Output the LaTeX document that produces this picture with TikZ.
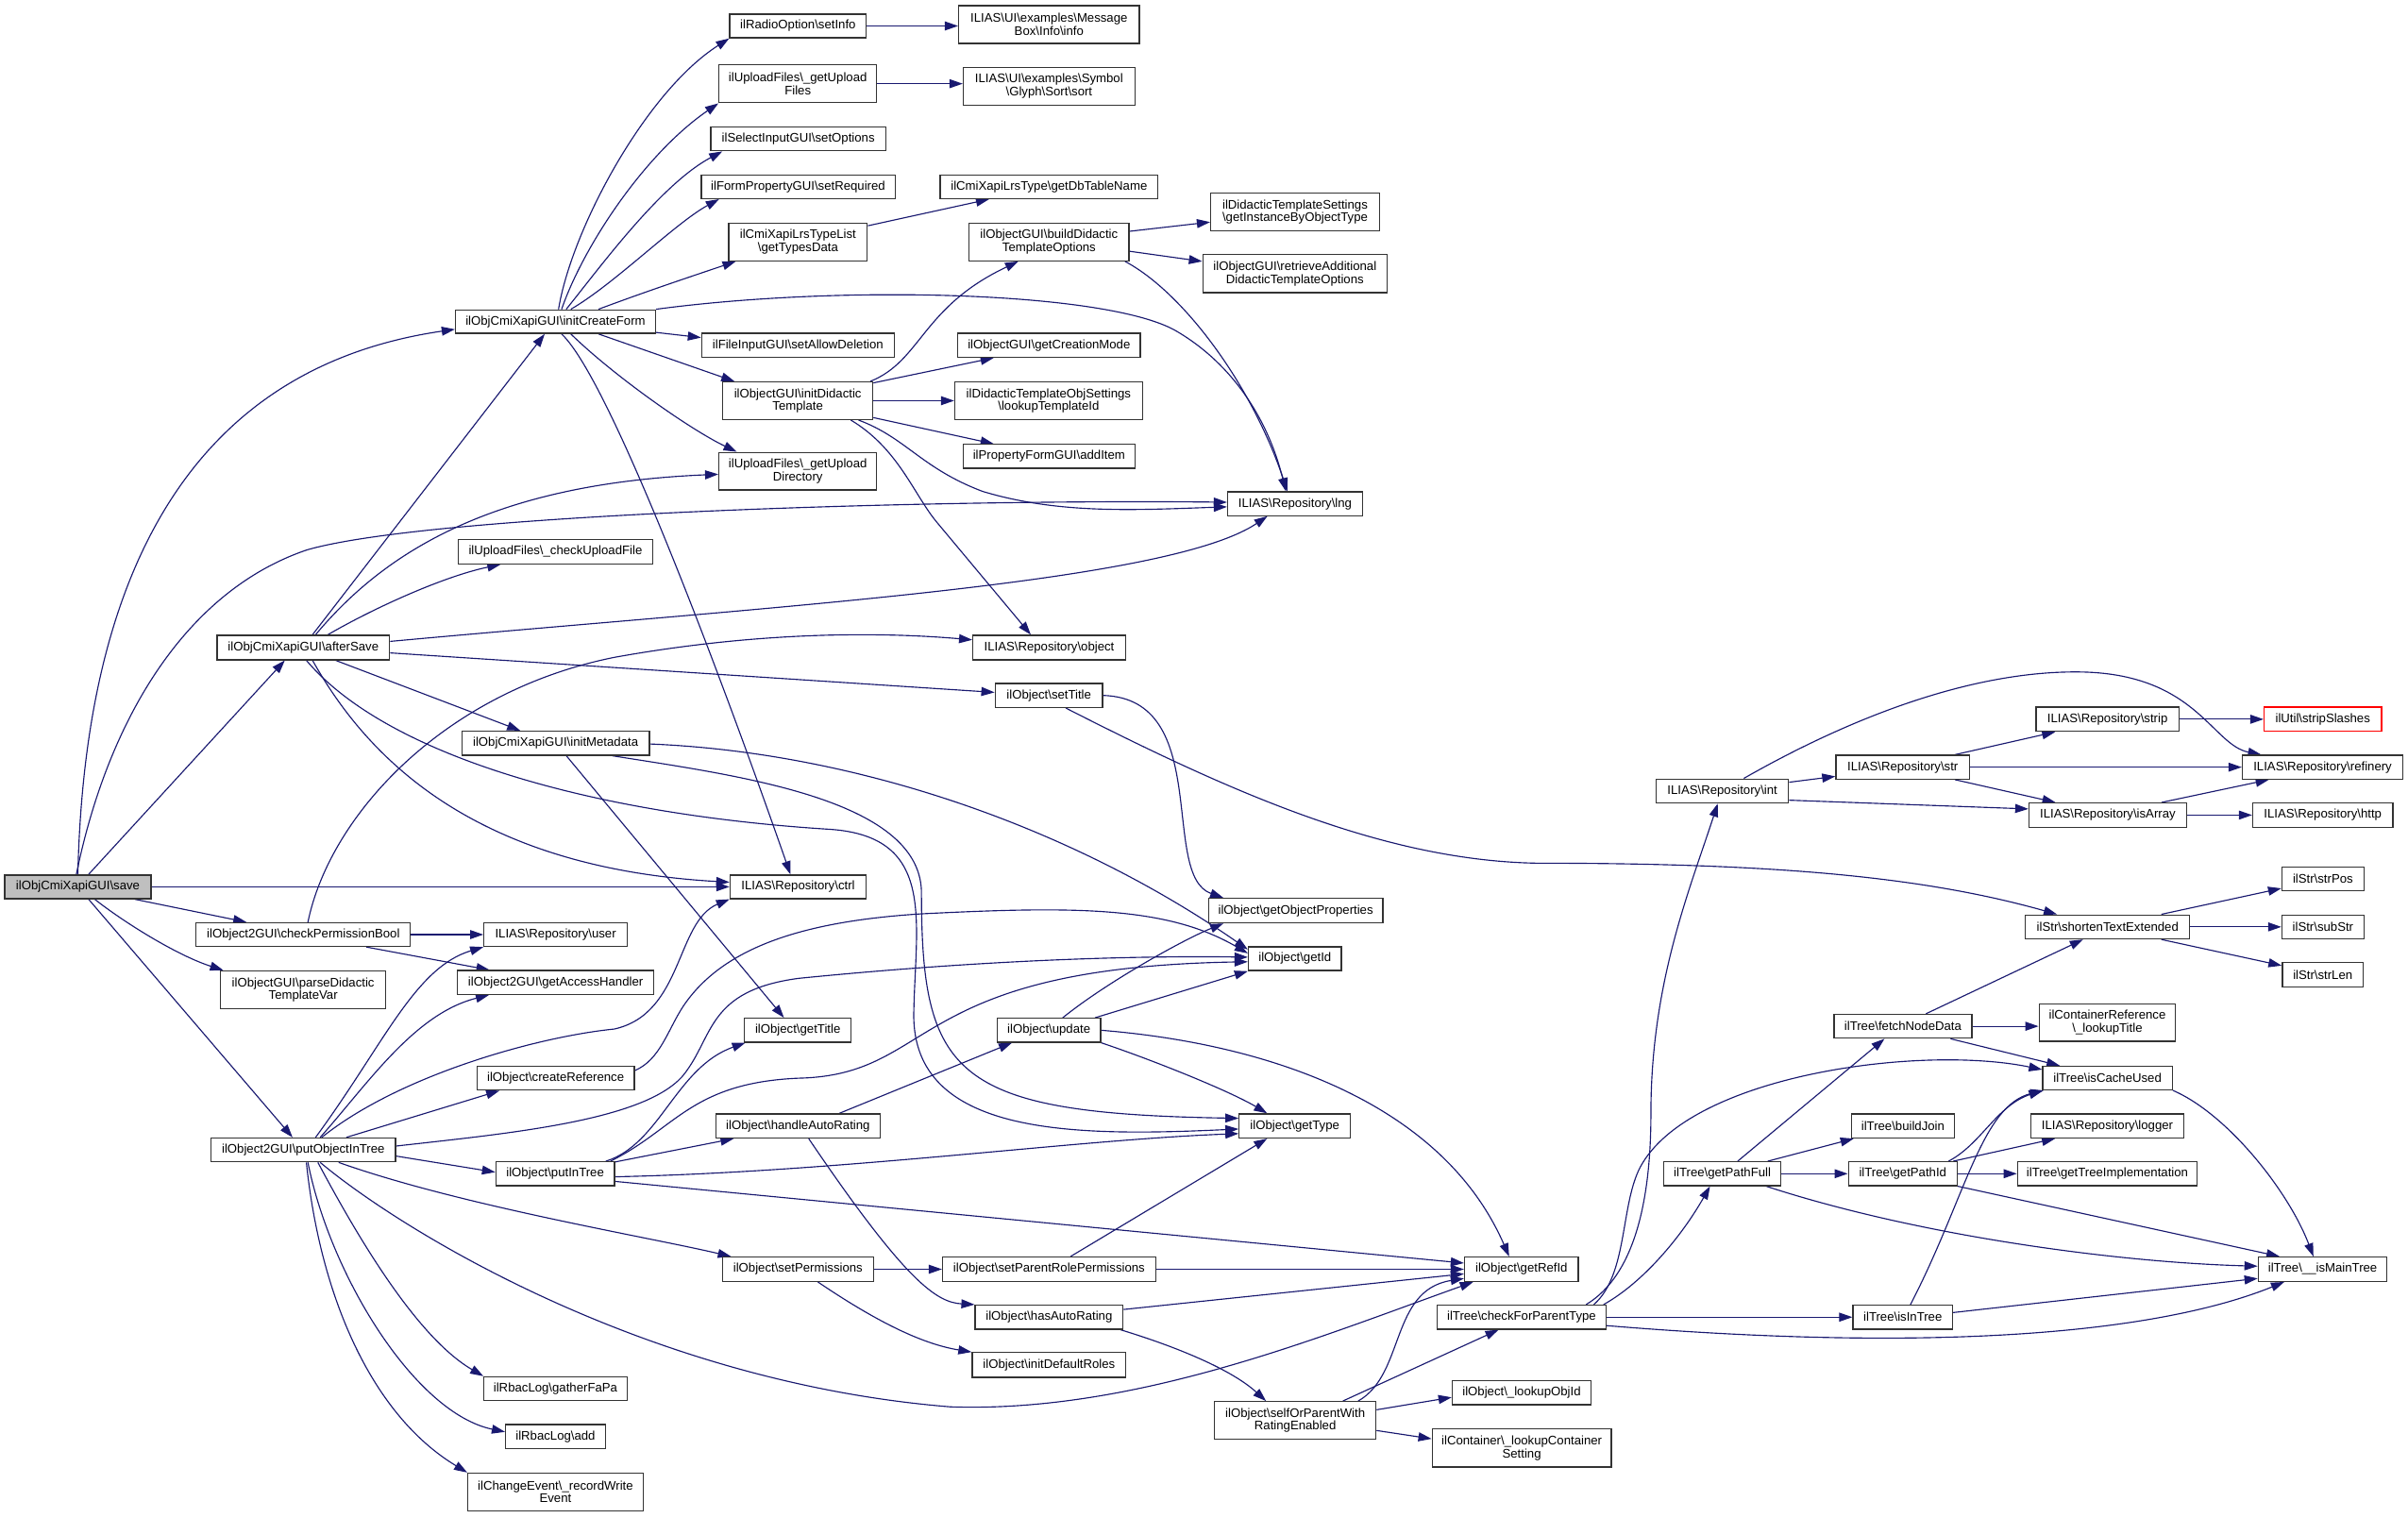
\documentclass[tikz,border=0pt]{standalone}
\usepackage{fontspec}
\setmainfont{Liberation Sans}
\usetikzlibrary{arrows.meta}
\definecolor{edgecol}{HTML}{191970}
\definecolor{boxcol}{HTML}{333333}
\definecolor{savefill}{HTML}{BFBFBF}
\pgfdeclarelayer{bg}
\pgfsetlayers{bg,main}
\newcommand{\bsl}{\textbackslash{}}
\newcommand{\mknode}[7][]{\node[fn,minimum width=#5pt,minimum height=#6pt,#1] (#2) at (#3,#4) {#7};}
\begin{document}
\begin{tikzpicture}[x=1pt,y=-1pt,
  fn/.style={draw=boxcol,line width=0.8pt,fill=white,inner sep=0pt,align=center,font=\fontsize{8.1}{8.4}\selectfont},
  e/.style={draw=edgecol,line width=0.7pt,-{Triangle[length=8.6pt,width=5.8pt]}}]
\useasboundingbox (0,0) rectangle (1568,987.8);
% ---------- nodes ----------
\mknode[fill=savefill]{save}{50.7}{577.4}{95.4}{15.4}{ilObjCmiXapiGUI\bsl save}
\mknode{icf}{361.7}{209.4}{130.2}{15.3}{ilObjCmiXapiGUI\bsl initCreateForm}
\mknode{afterSave}{197.5}{421.6}{112.4}{15.9}{ilObjCmiXapiGUI\bsl afterSave}
\mknode{cpb}{197.5}{608.5}{139.5}{15.4}{ilObject2GUI\bsl checkPermissionBool}
\mknode{pdtv}{197.4}{644.5}{107.7}{24.8}{ilObjectGUI\bsl parseDidactic\\TemplateVar}
\mknode{poit}{197.5}{748.7}{119.9}{15.5}{ilObject2GUI\bsl putObjectInTree}
\mknode{setInfo}{519.6}{16.9}{88.8}{15.5}{ilRadioOption\bsl setInfo}
\mknode{guf}{519.5}{54.5}{102.7}{24.8}{ilUploadFiles\bsl\_getUpload\\Files}
\mknode{setOptions}{519.8}{90.5}{114.1}{15.4}{ilSelectInputGUI\bsl setOptions}
\mknode{setRequired}{519.7}{121.6}{126.2}{15.4}{ilFormPropertyGUI\bsl setRequired}
\mknode{gtd}{519.6}{157.6}{90.2}{24.4}{ilCmiXapiLrsTypeList\\\bsl getTypesData}
\mknode{sad}{519.6}{224.8}{125.4}{15.6}{ilFileInputGUI\bsl setAllowDeletion}
\mknode{idt}{519.5}{260.9}{97.6}{24.4}{ilObjectGUI\bsl initDidactic\\Template}
\mknode{gud}{519.5}{306.8}{102.7}{24.5}{ilUploadFiles\bsl\_getUpload\\Directory}
\mknode{cuf}{361.7}{359.3}{126.7}{15.7}{ilUploadFiles\bsl\_checkUploadFile}
\mknode{imd}{361.8}{483.9}{122}{15.6}{ilObjCmiXapiGUI\bsl initMetadata}
\mknode{ctrl}{519.7}{577.4}{88.6}{15.4}{ILIAS\bsl Repository\bsl ctrl}
\mknode{user}{361.8}{608.5}{93.3}{15.4}{ILIAS\bsl Repository\bsl user}
\mknode{gah}{361.8}{639.7}{128}{15.5}{ilObject2GUI\bsl getAccessHandler}
\mknode{getTitle}{519.5}{670.8}{69.5}{15.5}{ilObject\bsl getTitle}
\mknode{createRef}{361.8}{702.0}{102.4}{15.5}{ilObject\bsl createReference}
\mknode{putInTree}{361.5}{764.2}{77.2}{15.5}{ilObject\bsl putInTree}
\mknode{har}{519.6}{733.1}{106.8}{15.7}{ilObject\bsl handleAutoRating}
\mknode{setPerm}{519.6}{826.4}{98.3}{15.8}{ilObject\bsl setPermissions}
\mknode{gfp}{361.7}{904.2}{93.1}{15.6}{ilRbacLog\bsl gatherFaPa}
\mknode{add}{361.7}{935.3}{64.9}{15.6}{ilRbacLog\bsl add}
\mknode{rwe}{361.7}{971.4}{114.1}{24.5}{ilChangeEvent\bsl\_recordWrite\\Event}
\mknode{msg}{683.1}{15.9}{117.7}{24.6}{ILIAS\bsl UI\bsl examples\bsl Message\\Box\bsl Info\bsl info}
\mknode{sort}{683.1}{56.1}{111.7}{24.6}{ILIAS\bsl UI\bsl examples\bsl Symbol\\\bsl Glyph\bsl Sort\bsl sort}
\mknode{dbtn}{683.1}{121.6}{141.8}{15.4}{ilCmiXapiLrsType\bsl getDbTableName}
\mknode{bdto}{683.1}{157.6}{104.1}{24.4}{ilObjectGUI\bsl buildDidactic\\TemplateOptions}
\mknode{gcm}{683.1}{224.8}{118.7}{15.6}{ilObjectGUI\bsl getCreationMode}
\mknode{lti}{682.8}{260.9}{122.2}{24.4}{ilDidacticTemplateObjSettings\\\bsl lookupTemplateId}
\mknode{addItem}{683.1}{297.1}{112.1}{15.4}{ilPropertyFormGUI\bsl addItem}
\mknode{lng}{843.3}{328.0}{87.9}{15.4}{ILIAS\bsl Repository\bsl lng}
\mknode{obj}{683.2}{421.6}{99.4}{15.9}{ILIAS\bsl Repository\bsl object}
\mknode{setTitle}{683}{452.8}{70}{15.6}{ilObject\bsl setTitle}
\mknode{gop}{843.7}{592.9}{113.4}{15.9}{ilObject\bsl getObjectProperties}
\mknode{getId}{843.2}{624.2}{60.6}{15.5}{ilObject\bsl getId}
\mknode{update}{683.0}{670.8}{67.3}{15.5}{ilObject\bsl update}
\mknode{getType}{843.1}{733.1}{72.4}{15.7}{ilObject\bsl getType}
\mknode{srp}{683.1}{826.4}{138.7}{15.8}{ilObject\bsl setParentRolePermissions}
\mknode{hasAR}{683.1}{857.6}{96.2}{15.6}{ilObject\bsl hasAutoRating}
\mknode{idr}{683.1}{888.7}{100.1}{16}{ilObject\bsl initDefaultRoles}
\mknode{getRefId}{990.7}{826.4}{74.1}{15.8}{ilObject\bsl getRefId}
\mknode{sop}{843.4}{924.9}{105.1}{24.6}{ilObject\bsl selfOrParentWith\\RatingEnabled}
\mknode{loi}{990.8}{906.8}{90.3}{15.7}{ilObject\bsl\_lookupObjId}
\mknode{lcs}{990.9}{942.8}{116.6}{24.7}{ilContainer\bsl\_lookupContainer\\Setting}
\mknode{cfpt}{990.8}{857.6}{109.9}{15.6}{ilTree\bsl checkForParentType}
\mknode{gibot}{843.3}{138.1}{109.9}{24.5}{ilDidacticTemplateSettings\\\bsl getInstanceByObjectType}
\mknode{rad}{843.2}{178.2}{120}{24.7}{ilObjectGUI\bsl retrieveAdditional\\DidacticTemplateOptions}
\mknode{int}{1121.5}{515.0}{86.3}{15.6}{ILIAS\bsl Repository\bsl int}
\mknode{strip}{1372.3}{468.3}{93}{15.7}{ILIAS\bsl Repository\bsl strip}
\mknode[draw=red]{stripSl}{1512.5}{468.3}{76.4}{15.7}{ilUtil\bsl stripSlashes}
\mknode{str}{1239.0}{499.5}{87}{15.5}{ILIAS\bsl Repository\bsl str}
\mknode{refinery}{1512.4}{499.5}{104.6}{15.5}{ILIAS\bsl Repository\bsl refinery}
\mknode{isArray}{1372.5}{530.7}{102.6}{15.7}{ILIAS\bsl Repository\bsl isArray}
\mknode{http}{1512.5}{530.7}{91.3}{15.7}{ILIAS\bsl Repository\bsl http}
\mknode{ste}{1372.4}{603.5}{106.9}{15.6}{ilStr\bsl shortenTextExtended}
\mknode{strPos}{1512.6}{572.4}{53.4}{15.4}{ilStr\bsl strPos}
\mknode{subStr}{1512.6}{603.5}{53.4}{15.6}{ilStr\bsl subStr}
\mknode{strLen}{1512.5}{634.7}{52.7}{15.7}{ilStr\bsl strLen}
\mknode{fnd}{1239.1}{668.2}{89.8}{15.5}{ilTree\bsl fetchNodeData}
\mknode{clt}{1372.2}{665.8}{88.8}{24.2}{ilContainerReference\\\bsl\_lookupTitle}
\mknode{icu}{1372.3}{701.9}{84.3}{15.3}{ilTree\bsl isCacheUsed}
\mknode{buildJoin}{1239.1}{733.1}{67.3}{15.7}{ilTree\bsl buildJoin}
\mknode{logger}{1372.2}{733.1}{99.2}{15.7}{ILIAS\bsl Repository\bsl logger}
\mknode{gpf}{1121.5}{764.2}{76.3}{15.5}{ilTree\bsl getPathFull}
\mknode{gpi}{1239.0}{764.2}{70.8}{15.5}{ilTree\bsl getPathId}
\mknode{gti}{1372.2}{764.2}{117}{15.5}{ilTree\bsl getTreeImplementation}
\mknode{imt}{1512.4}{826.4}{83.8}{15.8}{ilTree\bsl\_\_isMainTree}
\mknode{iit}{1239.0}{857.6}{64.8}{15.6}{ilTree\bsl isInTree}
% ---------- edges ----------
\begin{pgfonlayer}{bg}
\fill[white] (0,0) rectangle (1568,987.8);
% save
\draw[e] (save.north) .. controls (55,380) and (120,240) .. ([yshift=-5pt]icf.west);
\draw[e] ([xshift=7pt]save.north) -- ([xshift=-12pt]afterSave.south);
\draw[e] ([xshift=-1pt]save.north) .. controls (70,470) and (120,385) .. (200,358) .. controls (280,335) and (600,325) .. ([yshift=1pt]lng.west);
\draw[e] (save.east) -- (ctrl.west);
\draw[e] ([xshift=37pt]save.south) -- ([xshift=-37pt]cpb.north);
\draw[e] ([xshift=11pt]save.south) .. controls (80,600) and (115,622) .. ([xshift=-52pt]pdtv.north);
\draw[e] ([xshift=7pt]save.south) -- ([xshift=-7pt]poit.north);
% initCreateForm
\draw[e] ([xshift=2pt]icf.north) .. controls (372,150) and (420,60) .. (setInfo.south west);
\draw[e] ([xshift=4pt]icf.north) .. controls (380,160) and (420,100) .. (guf.south west);
\draw[e] ([xshift=7pt]icf.north) .. controls (390,175) and (430,120) .. ([xshift=8pt]setOptions.south west);
\draw[e] ([xshift=10pt]icf.north) .. controls (400,185) and (440,145) .. ([xshift=12pt]setRequired.south west);
\draw[e] ([xshift=28pt]icf.north) .. controls (420,190) and (450,180) .. ([xshift=5pt]gtd.south west);
\draw[e] (icf.north east) .. controls (550,185) and (720,190) .. (765,215) .. controls (800,235) and (825,270) .. ([xshift=-6pt]lng.north);
\draw[e] ([yshift=1pt]icf.south east) -- ([yshift=5pt]sad.west);
\draw[e] ([xshift=28pt]icf.south) -- ([xshift=8pt]idt.north west);
\draw[e] ([xshift=10pt]icf.south) .. controls (400,245) and (450,280) .. ([xshift=12pt]gud.north west);
\draw[e] ([xshift=4pt]icf.south) .. controls (400,250) and (480,470) .. ([xshift=-5pt]ctrl.north);
% afterSave
\draw[e] ([xshift=6pt]afterSave.north) -- ([xshift=-7pt]icf.south);
\draw[e] ([xshift=8pt]afterSave.north) .. controls (250,360) and (320,315) .. ([yshift=-2pt]gud.west);
\draw[e] ([xshift=16pt]afterSave.north) .. controls (245,395) and (290,375) .. ([xshift=28pt]cuf.south west);
\draw[e] ([yshift=4pt]afterSave.east) .. controls (500,395) and (760,380) .. ([xshift=-18pt]lng.south);
\draw[e] ([yshift=-3.5pt]afterSave.east) -- ([yshift=2pt]setTitle.west);
\draw[e] ([xshift=21pt]afterSave.south) -- ([xshift=-23pt]imd.north);
\draw[e] ([xshift=6pt]afterSave.south) .. controls (240,495) and (310,565) .. ([yshift=3pt]ctrl.west);
\draw[e] ([xshift=2pt]afterSave.south) .. controls (250,490) and (380,530) .. (541,540) .. controls (610,545) and (596,600) .. (595,660) .. controls (594,740) and (700,740) .. ([yshift=-2pt]getType.west);
% initMetadata
\draw[e] ([xshift=37pt]imd.south) .. controls (480,505) and (598,520) .. (600,580) .. controls (600,700) and (620,725) .. ([yshift=5pt]getType.west);
\draw[e] ([xshift=7pt]imd.south) -- ([xshift=-9pt]getTitle.north);
\draw[e] ([yshift=-0.5pt]imd.east) .. controls (560,490) and (700,540) .. ([yshift=6pt]getId.west);
% checkPermissionBool
\draw[e] (cpb.east) -- (user.west);
\draw[e] ([xshift=41pt]cpb.south) -- ([xshift=-43pt]gah.north);
\draw[e] ([xshift=3pt]cpb.north) .. controls (215,530) and (290,450) .. (400,428) .. controls (500,410) and (580,412) .. ([yshift=5pt]obj.west);
% putObjectInTree
\draw[e] ([xshift=8pt]poit.north) .. controls (250,680) and (270,630) .. (user.south west);
\draw[e] ([xshift=11pt]poit.north) .. controls (240,705) and (270,660) .. ([xshift=21pt]gah.south west);
\draw[e] ([xshift=12pt]poit.north) .. controls (260,700) and (350,675) .. (400,670) .. controls (445,660) and (440,600) .. (ctrl.south west);
\draw[e] ([xshift=28pt]poit.north) -- ([xshift=15pt]createRef.south west);
\draw[e] ([yshift=2.5pt]poit.east) .. controls (330,738) and (420,730) .. (445,700) .. controls (465,675) and (460,645) .. (520,637) .. controls (620,627) and (720,622) .. ([yshift=1pt]getId.west);
\draw[e] ([yshift=-4pt]poit.east) -- ([yshift=1pt]putInTree.west);
\draw[e] ([xshift=23pt]poit.south) .. controls (300,785) and (420,805) .. ([xshift=6pt]setPerm.north west);
\draw[e] ([xshift=11pt]poit.south) .. controls (260,800) and (420,900) .. (619,916) .. controls (740,920) and (860,870) .. ([xshift=6pt]getRefId.south west);
\draw[e] ([xshift=9.5pt]poit.south) .. controls (230,800) and (270,870) .. (gfp.north west);
\draw[e] ([xshift=3pt]poit.south) .. controls (215,830) and (270,920) .. ([yshift=3pt]add.west);
\draw[e] ([xshift=2pt]poit.south) .. controls (208,840) and (240,920) .. (rwe.north west);
% createReference
\draw[e] ([yshift=5pt]createRef.east) .. controls (430,690) and (435,670) .. (445,655) .. controls (470,618) and (520,600) .. (600,595) .. controls (700,590) and (760,590) .. ([yshift=3.5pt]getId.west);
% putInTree
\draw[e] ([xshift=-6pt]putInTree.north east) .. controls (430,745) and (440,695) .. ([xshift=1pt]getTitle.south west);
\draw[e] ([xshift=-3pt]putInTree.north east) .. controls (440,735) and (450,705) .. (520,702) .. controls (610,700) and (590,630) .. ([yshift=-2pt]getId.west);
\draw[e] ([yshift=-0.5pt]putInTree.north east) -- ([xshift=12pt]har.south west);
\draw[e] ([yshift=-2pt]putInTree.east) .. controls (550,763) and (700,742) .. ([yshift=-5pt]getType.west);
\draw[e] ([yshift=-5pt]putInTree.east) -- ([yshift=4pt]getRefId.west);
% handleAutoRating
\draw[e] ([xshift=27pt]har.north) -- ([xshift=10pt]update.south west);
\draw[e] ([xshift=7pt]har.south) .. controls (590,835) and (610,848) .. (hasAR.north west);
% setPermissions etc.
\draw[e] (setPerm.east) -- (srp.west);
\draw[e] ([xshift=13pt]setPerm.south) .. controls (570,860) and (600,875) .. (idr.north west);
\draw[e] ([xshift=14pt]srp.north) -- ([xshift=-18pt]getType.south);
\draw[e] (srp.east) -- (getRefId.west);
\draw[e] ([yshift=5pt]hasAR.east) -- ([yshift=-3pt]getRefId.west);
\draw[e] ([xshift=-2pt]hasAR.south east) .. controls (760,875) and (800,890) .. ([xshift=-19pt]sop.north);
% update
\draw[e] ([xshift=9pt]update.north) .. controls (720,640) and (770,612) .. ([xshift=10pt]gop.south west);
\draw[e] ([xshift=-4pt]update.north east) -- (getId.south west);
\draw[e] (update.south east) .. controls (750,690) and (800,710) .. ([xshift=-18pt]getType.north);
\draw[e] (update.east) .. controls (830,680) and (940,720) .. ([xshift=-8pt]getRefId.north);
% setTitle
\draw[e] (setTitle.east) .. controls (790,455) and (755,570) .. ([xshift=10pt]gop.north west);
\draw[e] ([xshift=11pt]setTitle.south) .. controls (800,515) and (900,560) .. (1000,562) .. controls (1150,562) and (1250,570) .. ([xshift=-33pt]ste.north);
% upper middle
\draw[e] ([yshift=-2pt]gtd.north east) -- ([xshift=-39pt]dbtn.south);
\draw[e] (setInfo.east) -- (setInfo.east -| msg.west);
\draw[e] (guf.east) -- (guf.east -| sort.west);
\draw[e] ([xshift=-2pt]idt.north east) .. controls (600,235) and (600,200) .. ([xshift=-20pt]bdto.south);
\draw[e] ([yshift=-1pt]idt.north east) -- ([xshift=-36pt]gcm.south);
\draw[e] (idt.east) -- (idt.east -| lti.west);
\draw[e] ([yshift=-11pt]idt.east) -- ([xshift=-36pt]addItem.north);
\draw[e] ([xshift=39.5pt]idt.south) .. controls (590,285) and (600,305) .. (640,320) .. controls (690,335) and (740,332) .. ([yshift=-2pt]lng.west);
\draw[e] ([xshift=34.5pt]idt.south) .. controls (585,292) and (595,322) .. (610,340) -- ([xshift=-12pt]obj.north);
\draw[e] ([yshift=7pt]bdto.east) -- ([yshift=-6.5pt]gibot.west);
\draw[e] ([yshift=-6pt]bdto.east) -- ([yshift=8pt]rad.west);
\draw[e] ([xshift=-3pt]bdto.south east) .. controls (770,190) and (815,250) .. ([xshift=-5pt]lng.north);
% right part
\draw[e] ([xshift=14pt]int.north) .. controls (1200,470) and (1280,437) .. (1353,437.5) .. controls (1430,438) and (1440,485) .. ([xshift=-40pt]refinery.north);
\draw[e] ([yshift=5.7pt]int.east) -- ([yshift=-6pt]str.west);
\draw[e] ([yshift=-6pt]int.east) -- ([yshift=4pt]isArray.west);
\draw[e] ([xshift=34pt]str.north) -- ([xshift=-34pt]strip.south);
\draw[e] (str.east) -- (refinery.west);
\draw[e] ([xshift=34pt]str.south) -- ([xshift=-34pt]isArray.north);
\draw[e] (strip.east) -- (stripSl.west);
\draw[e] ([xshift=35pt]isArray.north) -- ([xshift=-35pt]refinery.south);
\draw[e] (isArray.east) -- (http.west);
\draw[e] ([xshift=35pt]ste.north) -- ([yshift=-6pt]strPos.west);
\draw[e] (ste.east) -- (subStr.west);
\draw[e] ([xshift=35pt]ste.south) -- ([yshift=6pt]strLen.west);
\draw[e] ([xshift=15pt]fnd.north) -- ([xshift=-16pt]ste.south);
\draw[e] (fnd.east) -- (fnd.east -| clt.west);
\draw[e] ([xshift=31pt]fnd.south) -- ([xshift=-31pt]icu.north);
\draw[e] (icu.south east) .. controls (1450,725) and (1490,775) .. ([xshift=-6pt]imt.north);
\draw[e] ([xshift=42pt]cfpt.north) .. controls (1065,830) and (1075,780) .. (1075,725) .. controls (1075,640) and (1100,580) .. ([xshift=-3pt]int.south);
\draw[e] ([xshift=47pt]cfpt.north) .. controls (1060,830) and (1055,785) .. (1068,760) .. controls (1100,700) and (1250,680) .. ([yshift=5.5pt]icu.west);
\draw[e] ([xshift=-2pt]cfpt.north east) .. controls (1070,835) and (1095,805) .. ([xshift=-8pt]gpf.south);
\draw[e] (cfpt.east) -- (iit.west);
\draw[e] ([yshift=-5.5pt]cfpt.east) .. controls (1250,880) and (1400,870) .. ([xshift=-25pt]imt.south);
\draw[e] ([xshift=10pt]gpf.north) -- ([xshift=-12pt]fnd.south);
\draw[e] ([xshift=-9pt]gpf.north east) -- ([xshift=2pt]buildJoin.south west);
\draw[e] (gpf.east) -- (gpi.west);
\draw[e] ([xshift=-10pt]gpf.south east) .. controls (1250,805) and (1380,822) .. ([yshift=2pt]imt.west);
\draw[e] ([xshift=-6pt]gpi.north east) .. controls (1290,745) and (1300,720) .. (icu.south west);
\draw[e] ([xshift=-3pt]gpi.north east) -- ([xshift=-34pt]logger.south);
\draw[e] (gpi.east) -- (gti.west);
\draw[e] (gpi.south east) -- ([xshift=-28pt]imt.north);
\draw[e] ([xshift=5pt]iit.north) .. controls (1280,780) and (1290,720) .. ([xshift=1pt]icu.south west);
\draw[e] ([yshift=3pt]iit.east) -- ([yshift=-6pt]imt.west);
% selfOrParentWithRatingEnabled
\draw[e] ([xshift=-12pt]sop.north east) .. controls (915,895) and (905,840) .. ([yshift=-6pt]getRefId.west);
\draw[e] ([xshift=31pt]sop.north) -- ([xshift=-15pt]cfpt.south);
\draw[e] ([yshift=7pt]sop.east) -- ([yshift=-3pt]loi.west);
\draw[e] ([yshift=-6.5pt]sop.east) -- ([yshift=6pt]lcs.west);
\end{pgfonlayer}
\end{tikzpicture}
\end{document}
